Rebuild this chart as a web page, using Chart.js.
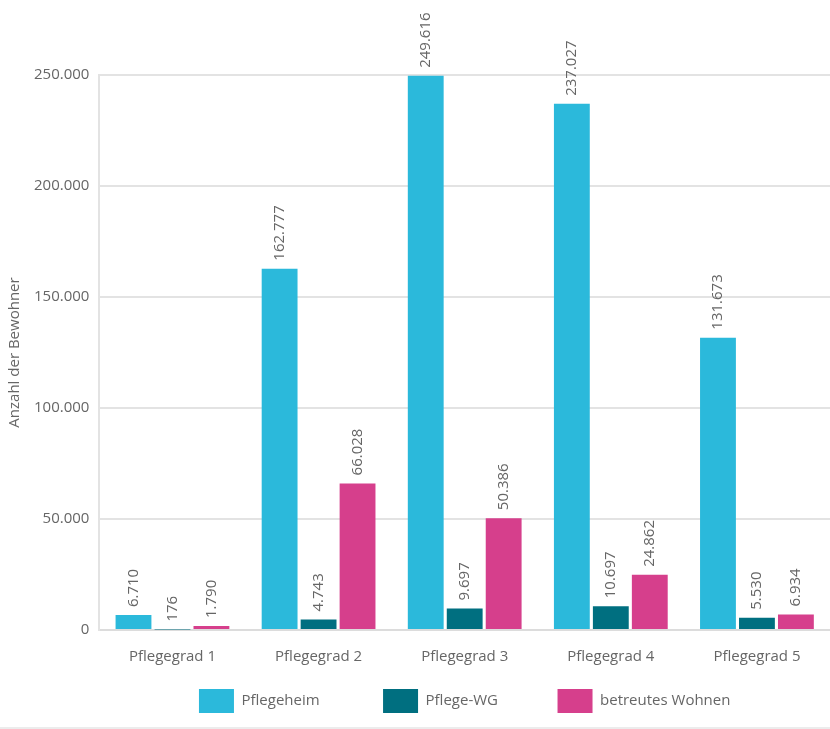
<!DOCTYPE html>
<html>
<head>
<meta charset="utf-8">
<script src="https://cdn.jsdelivr.net/npm/chart.js@4.4.0/dist/chart.umd.min.js"></script>
<style>
    html, body { margin: 0; padding: 0; background: #fff; }
    #wrap { width: 830px; height: 727px; border-bottom: 2px solid #ececec; }
</style>
</head>
<body>
<div id="wrap"><canvas id="chart"></canvas></div>
<script>
const categories = ['Pflegegrad 1', 'Pflegegrad 2', 'Pflegegrad 3', 'Pflegegrad 4', 'Pflegegrad 5'];
const pflegeheim = [6710, 162777, 249616, 237027, 131673];
const pflegeWG = [176, 4743, 9697, 10697, 5530];
const betreutesWohnen = [1790, 66028, 50386, 24862, 6934];

const colors = {
    heim: '#2bb9db',
    wg: '#006f80',
    wohnen: '#d63f8c',
    text: '#666',
    grid: '#e3e3e3'
};

const fmt = v => Number(v).toLocaleString('de-DE');

// Werte senkrecht über die Balken schreiben
const valueLabels = {
    id: 'valueLabels',
    afterDatasetsDraw(chart) {
        const ctx = chart.ctx;
        chart.data.datasets.forEach((ds, i) => {
            chart.getDatasetMeta(i).data.forEach((bar, j) => {
                ctx.save();
                ctx.translate(bar.x, bar.y - 8);
                ctx.rotate(-Math.PI / 2);
                ctx.font = '15px "Open Sans"';
                ctx.fillStyle = colors.text;
                ctx.textAlign = 'left';
                ctx.textBaseline = 'middle';
                ctx.fillText(fmt(ds.data[j]), 0, 0);
                ctx.restore();
            });
        });
    }
};

Chart.defaults.font.family = '"Open Sans"';
Chart.defaults.color = colors.text;

// Abstand zwischen den Legendeneinträgen über angehängte Leerzeichen
const legendGaps = ['\u00a0'.repeat(15), '\u00a0'.repeat(14), ''];

new Chart(document.getElementById('chart'), {
    type: 'bar',
    data: {
        labels: categories,
        datasets: [
            { label: 'Pflegeheim', data: pflegeheim, backgroundColor: colors.heim },
            { label: 'Pflege-WG', data: pflegeWG, backgroundColor: colors.wg },
            { label: 'betreutes Wohnen', data: betreutesWohnen, backgroundColor: colors.wohnen }
        ]
    },
    options: {
        responsive: true,
        maintainAspectRatio: false,
        animation: false,
        datasets: { bar: { categoryPercentage: 0.8, barPercentage: 0.92 } },
        layout: { padding: { top: 75, left: 2, right: 0, bottom: 4 } },
        plugins: {
            tooltip: { enabled: false },
            legend: {
                position: 'bottom',
                fullSize: false,
                labels: {
                    boxWidth: 35,
                    boxHeight: 24,
                    padding: 5,
                    color: colors.text,
                    font: { size: 15 },
                    generateLabels(chart) {
                        const items = Chart.defaults.plugins.legend.labels.generateLabels(chart);
                        items.forEach((it, i) => {
                            it.lineWidth = 0;
                            it.text += legendGaps[i];
                        });
                        return items;
                    }
                }
            }
        },
        scales: {
            x: {
                grid: { display: false, drawTicks: false },
                border: { color: '#dcdcdc', width: 2 },
                ticks: { padding: 18, font: { size: 15 }, color: colors.text }
            },
            y: {
                min: 0,
                max: 250000,
                grid: { color: colors.grid, lineWidth: 2, drawTicks: false },
                border: { color: '#e3e3e3', width: 2 },
                ticks: { stepSize: 50000, padding: 10, font: { size: 15 }, color: colors.text, callback: v => fmt(v) },
                title: { display: true, text: 'Anzahl der Bewohner', font: { size: 15 }, color: colors.text, padding: { top: 4, bottom: 0 } }
            }
        }
    },
    plugins: [valueLabels]
});
</script>
</body>
</html>
